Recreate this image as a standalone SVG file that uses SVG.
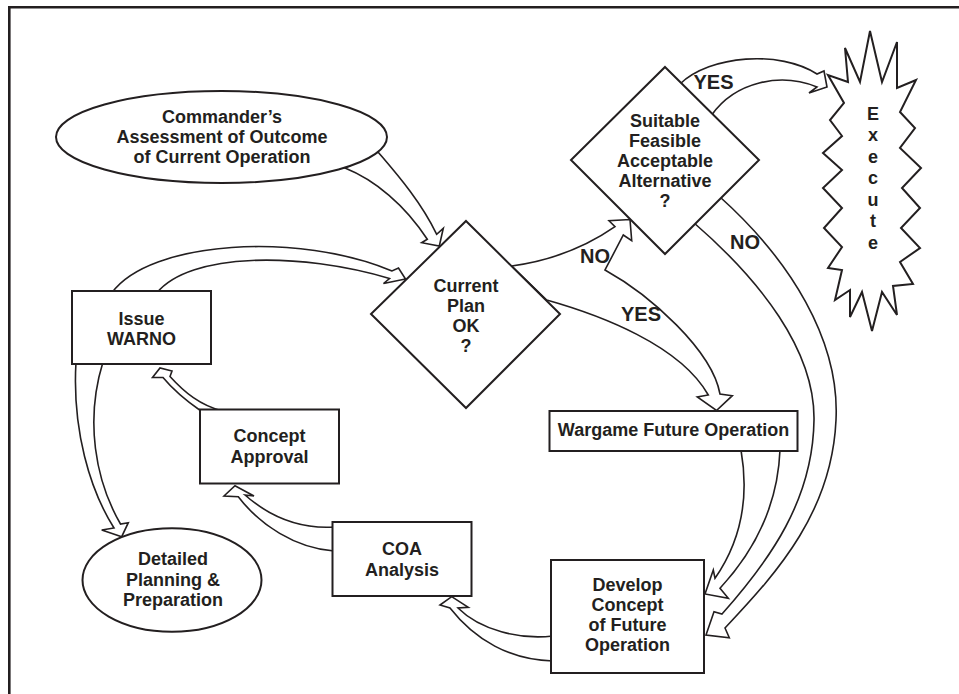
<svg xmlns="http://www.w3.org/2000/svg" width="959" height="694" viewBox="0 0 959 694">
  <style>
    .frame { fill: none; stroke: #231f20; stroke-width: 2.6; }
    .node { fill: #ffffff; stroke: #231f20; stroke-width: 2; }
    .arrow { fill: #ffffff; stroke: #231f20; stroke-width: 1.6; stroke-linejoin: miter; }
    text { font-family: "Liberation Sans", Arial, sans-serif; font-weight: bold; fill: #231f20; text-anchor: middle; }
    .t { font-size: 18px; }
    .lbl { font-size: 20px; }
  </style>

  <rect width="959" height="694" fill="#ffffff"/>
  <!-- page frame (open on the right and bottom) -->
  <path class="frame" d="M9.3,694 L9.3,7.3 L959,7.3"/>

  <!-- block arrows, drawn beneath the nodes -->
  <g id="connectors">
    <!-- assessment -> current plan -->
    <path class="arrow" d="M378,152 C395,172 420,200 436.7,234.3 L443.3,228.3 L439.3,246 L421.7,242.7 L427.3,239.3 C405,205 375,180 345,168 Z"/>
    <!-- issue WARNO -> current plan -->
    <path class="arrow" d="M111.7,293 C150,240 300,232 392,271 L398.5,268 L405.5,279 L383.5,283.5 L389.5,278.5 C300,252 190,252 156.7,293 Z"/>
    <!-- current plan: NO -> alternative, YES -> wargame -->
    <path class="arrow" d="M511.7,266 Q570,258 615,226.7 L609,220.7 L630,219.5 L631.7,240.7 L623.3,235 L605,270 C650,295 712,350 720,394 L732.3,395.7 L716.5,410.5 L697.3,397 L708.3,395 C680,345 600,315 546.7,300 Z"/>
    <!-- alternative YES -> execute -->
    <path class="arrow" d="M680,84 C710,55 780,50 817,74 L824,71 L827,87 L809,93 L817,87 C780,72 735,82 711.7,115 Z"/>
    <!-- alternative NO -> develop concept -->
    <path class="arrow" d="M720,197 C790,260 840,340 836,420 C832,510 780,570 725,628 L729.3,637.7 L706,635 L714,611.7 L722,614 C770,560 813,500 814,420 C815,350 760,280 693,222 Z"/>
    <!-- wargame -> develop concept -->
    <path class="arrow" d="M741,450 C748,490 745,535 715,578.3 L713.3,570 L705,594 L728.3,598.3 L720,588.3 C760,545 778,500 780,450 Z"/>
    <!-- develop concept -> COA analysis -->
    <path class="arrow" d="M553,636 C520,640 480,630 458,608 L468.3,607.3 L451.7,596.7 L440,605 L450,608 C475,640 510,660 553,661 Z"/>
    <!-- COA analysis -> concept approval -->
    <path class="arrow" d="M334,527 C300,529 270,517 245,495 L254,496 L235,485.7 L224,496 L238.3,496.7 C260,525 295,548 334,551 Z"/>
    <!-- concept approval -> issue WARNO -->
    <path class="arrow" d="M222,411 C200,405 185,393 170,376.5 L172,371 L160,368 L152.5,377.5 L163,377.5 C175,392 188,402 201,411 Z"/>
    <!-- issue WARNO -> detailed planning -->
    <path class="arrow" d="M76,362 C72,430 90,490 114,528 L101.7,530 L121.7,536.7 L128.3,522.7 L120.5,524 C95,480 85,420 103,362 Z"/>
  </g>

  <g id="assessment">
    <ellipse class="node" cx="221.5" cy="137" rx="165.5" ry="46"/>
    <text class="t" x="222" y="122.5">Commander’s</text>
    <text class="t" x="222" y="142.5">Assessment of Outcome</text>
    <text class="t" x="222" y="162.5">of Current Operation</text>
  </g>

  <g id="current-plan">
    <polygon class="node" points="466,221 560,314 466,408 371,314"/>
    <text class="t" x="466" y="291.5">Current</text>
    <text class="t" x="466" y="311.5">Plan</text>
    <text class="t" x="466" y="331.5">OK</text>
    <text class="t" x="466" y="351.5">?</text>
  </g>

  <g id="alternative">
    <polygon class="node" points="665,67 759,160 665,254 571,160"/>
    <text class="t" x="665" y="126.5">Suitable</text>
    <text class="t" x="665" y="146.5">Feasible</text>
    <text class="t" x="665" y="166.5">Acceptable</text>
    <text class="t" x="665" y="186.5">Alternative</text>
    <text class="t" x="665" y="206.5">?</text>
  </g>

  <g id="execute">
    <polygon class="node" points="870,31 882,82 897,42 897,88 916,80 900,112 915,128 900,148 921,168 902,188 920,208 901,228 920,248 900,262 913,284 893,286 897,315 882,292 872,331 862,292 850,317 850,290 835,300 842,270 828,268 842,247 824,228 842,208 823,188 842,170 823,153 842,136 830,120 844,103 828,75 848,82 845,48 860,82"/>
    <text class="t" x="873" y="119.5">E</text>
    <text class="t" x="873" y="141">x</text>
    <text class="t" x="873" y="162.5">e</text>
    <text class="t" x="873" y="184">c</text>
    <text class="t" x="873" y="205.5">u</text>
    <text class="t" x="873" y="227">t</text>
    <text class="t" x="873" y="248.5">e</text>
  </g>

  <g id="issue-warno">
    <rect class="node" x="72" y="291" width="139" height="73"/>
    <text class="t" x="141.5" y="325">Issue</text>
    <text class="t" x="141.5" y="345">WARNO</text>
  </g>

  <g id="concept-approval">
    <rect class="node" x="200" y="409.5" width="139" height="74"/>
    <text class="t" x="269.5" y="442">Concept</text>
    <text class="t" x="269.5" y="462.5">Approval</text>
  </g>

  <g id="coa-analysis">
    <rect class="node" x="332.5" y="522" width="139" height="74"/>
    <text class="t" x="402" y="555">COA</text>
    <text class="t" x="402" y="575.5">Analysis</text>
  </g>

  <g id="detailed-planning">
    <ellipse class="node" cx="172" cy="580" rx="89.5" ry="51.7"/>
    <text class="t" x="173" y="565">Detailed</text>
    <text class="t" x="173" y="585.5">Planning &amp;</text>
    <text class="t" x="173" y="605.5">Preparation</text>
  </g>

  <g id="wargame">
    <rect class="node" x="549.5" y="411" width="248" height="40"/>
    <text class="t" x="673.5" y="436.3">Wargame Future Operation</text>
  </g>

  <g id="develop-concept">
    <rect class="node" x="551" y="560" width="153" height="113"/>
    <text class="t" x="627.5" y="591.3">Develop</text>
    <text class="t" x="627.5" y="611.3">Concept</text>
    <text class="t" x="627.5" y="631.3">of Future</text>
    <text class="t" x="627.5" y="651.3">Operation</text>
  </g>

  <!-- branch labels -->
  <g id="labels">
    <text class="lbl" x="713.5" y="89.3">YES</text>
    <text class="lbl" x="595" y="262.6">NO</text>
    <text class="lbl" x="641" y="321">YES</text>
    <text class="lbl" x="745" y="249.3">NO</text>
  </g>
</svg>
